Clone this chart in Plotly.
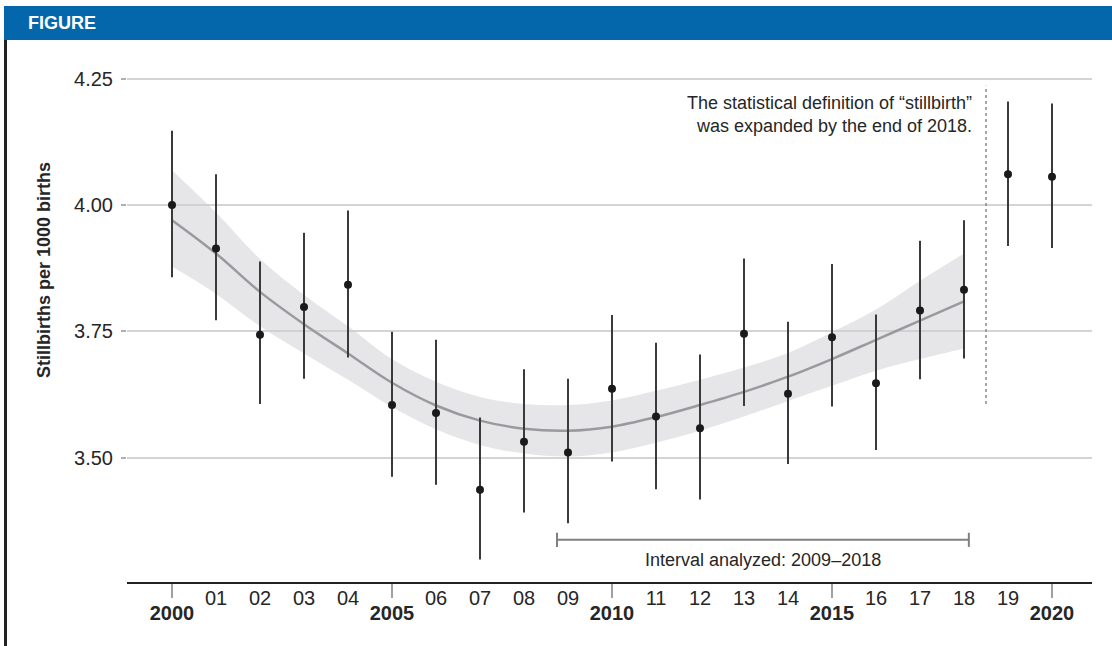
import plotly.graph_objects as go

# ---- data ----
years = list(range(2000, 2021))
rate = [4.000, 3.914, 3.743, 3.798, 3.842, 3.604, 3.588, 3.436, 3.531, 3.510,
        3.636, 3.581, 3.558, 3.745, 3.626, 3.738, 3.647, 3.791, 3.832, 4.061, 4.056]
ci_upper = [4.147, 4.061, 3.888, 3.945, 3.989, 3.749, 3.733, 3.579, 3.675, 3.656,
            3.782, 3.727, 3.704, 3.894, 3.769, 3.883, 3.783, 3.929, 3.970, 4.205, 4.201]
ci_lower = [3.857, 3.772, 3.606, 3.656, 3.698, 3.462, 3.446, 3.298, 3.391, 3.370,
            3.492, 3.437, 3.417, 3.602, 3.487, 3.601, 3.515, 3.655, 3.696, 3.919, 3.915]

fit_years = list(range(2000, 2019))
fit = [3.970, 3.904, 3.828, 3.764, 3.706, 3.648, 3.603, 3.573, 3.557, 3.553,
       3.561, 3.580, 3.604, 3.630, 3.660, 3.695, 3.733, 3.771, 3.809]
fit_upper = [4.069, 3.985, 3.893, 3.822, 3.760, 3.695, 3.650, 3.620, 3.606, 3.604,
             3.613, 3.632, 3.654, 3.678, 3.707, 3.748, 3.793, 3.850, 3.904]
fit_lower = [3.878, 3.824, 3.760, 3.706, 3.654, 3.600, 3.556, 3.525, 3.508, 3.502,
             3.510, 3.529, 3.553, 3.581, 3.612, 3.642, 3.672, 3.695, 3.716]

major_ticks = [2000, 2005, 2010, 2015, 2020]
major_labels = ["2000", "2005", "2010", "2015", "2020"]
minor_ticks = [y for y in years if y % 5 != 0]
minor_labels = ["01", "02", "03", "04", "06", "07", "08", "09", "11", "12",
                "13", "14", "16", "17", "18", "19"]
y_ticks = [3.50, 3.75, 4.00, 4.25]
y_labels = ["3.50", "3.75", "4.00", "4.25"]

DEF_CHANGE_X = 2018.5
DEF_LINE_Y = (3.606, 4.236)
INTERVAL = (2008.75, 2018.11)
INTERVAL_Y = 3.337

NARROW = "Liberation Sans Narrow, Arial Narrow, Liberation Sans, sans-serif"
TXT = "#262626"

fig = go.Figure()

# confidence band of the fit
fig.add_trace(go.Scatter(x=fit_years, y=fit_upper, mode="lines", line=dict(width=0, shape="spline"),
                         hoverinfo="skip", showlegend=False))
fig.add_trace(go.Scatter(x=fit_years, y=fit_lower, mode="lines", line=dict(width=0, shape="spline"),
                         fill="tonexty", fillcolor="rgba(205,205,210,0.5)",
                         hoverinfo="skip", showlegend=False))
# fitted curve
fig.add_trace(go.Scatter(x=fit_years, y=fit, mode="lines",
                         line=dict(color="#9a9a9e", width=2.5, shape="spline"),
                         showlegend=False))
# observed rates with CI
fig.add_trace(go.Scatter(
    x=years, y=rate, mode="markers",
    marker=dict(color="#1a1a1a", size=8),
    error_y=dict(type="data", symmetric=False,
                 array=[u - r for u, r in zip(ci_upper, rate)],
                 arrayminus=[r - l for r, l in zip(rate, ci_lower)],
                 color="#3a3a3a", thickness=2, width=0),
    showlegend=False))

# helper axis for minor year labels
fig.add_trace(go.Scatter(x=[years[0]], y=[rate[0]], xaxis="x2", mode="markers",
                         marker=dict(opacity=0), hoverinfo="skip", showlegend=False))

# plot area px: 127..1092 ; top 58, bottom 582
L, R, T, B = 127, 1092, 58, 582
W, H = 1112, 646
px = lambda p: (p - L) / (R - L)
py = lambda p: (B - p) / (B - T)

shapes = [
    # header bar
    dict(type="rect", xref="paper", yref="paper", x0=px(4), x1=px(1112), y0=py(40), y1=py(6),
         fillcolor="#0467AB", line=dict(width=0), layer="above"),
    # left frame line
    dict(type="line", xref="paper", yref="paper", x0=px(5.5), x1=px(5.5), y0=py(646), y1=py(40),
         line=dict(color="#222222", width=3)),
    # definition change dotted line
    dict(type="line", xref="x", yref="y", x0=DEF_CHANGE_X, x1=DEF_CHANGE_X,
         y0=DEF_LINE_Y[0], y1=DEF_LINE_Y[1], line=dict(color="#8a8a8a", width=1.5, dash="dot")),
    # interval bracket
    dict(type="line", xref="x", yref="y", x0=INTERVAL[0], x1=INTERVAL[1], y0=INTERVAL_Y, y1=INTERVAL_Y,
         line=dict(color="#808080", width=2)),
    dict(type="line", xref="x", yref="y", x0=INTERVAL[0], x1=INTERVAL[0],
         y0=INTERVAL_Y - 0.014, y1=INTERVAL_Y + 0.014, line=dict(color="#808080", width=2)),
    dict(type="line", xref="x", yref="y", x0=INTERVAL[1], x1=INTERVAL[1],
         y0=INTERVAL_Y - 0.014, y1=INTERVAL_Y + 0.014, line=dict(color="#808080", width=2)),
]

annotations = [
    dict(text="<b>FIGURE</b>", xref="paper", yref="paper", x=px(26), y=py(23),
         xanchor="left", yanchor="middle", showarrow=False,
         font=dict(family="Liberation Sans, Arial, sans-serif", size=18, color="white")),
    dict(text="<b>Stillbirths per 1000 births</b>", xref="paper", yref="paper",
         x=px(44), y=py(270), textangle=-90, showarrow=False,
         xanchor="center", yanchor="middle", font=dict(family=NARROW, size=18, color=TXT)),
    dict(text="The statistical definition of “stillbirth”<br>was expanded by the end of 2018.",
         xref="x", yref="y", x=DEF_CHANGE_X - 0.27, y=4.179, xanchor="right", yanchor="middle",
         align="right", showarrow=False, font=dict(family=NARROW, size=18, color=TXT)),
    dict(text="Interval analyzed: 2009–2018", xref="x", yref="y",
         x=(INTERVAL[0] + INTERVAL[1]) / 2, y=3.297, xanchor="center", yanchor="middle",
         showarrow=False, font=dict(family=NARROW, size=18, color=TXT)),
]

x_range = [2000 + (L - 172) / 44, 2000 + (R - 172) / 44]
y_range = [4 - (B - 205) / 505, 4 + (205 - T) / 505]

fig.update_layout(
    width=W, height=H,
    margin=dict(l=L, r=W - R, t=T, b=H - B, pad=0),
    plot_bgcolor="white", paper_bgcolor="white",
    shapes=shapes, annotations=annotations,
    xaxis=dict(range=x_range, tickvals=major_ticks, ticktext=["<b>%s</b>" % t for t in major_labels],
               ticks="outside", ticklen=14, tickwidth=1.5, tickcolor="#a0a0a0",
               showgrid=False, zeroline=False, showline=True, linecolor="#222222", linewidth=2,
               tickfont=dict(family=NARROW, size=20, color=TXT), ticklabelstandoff=-2),
    xaxis2=dict(range=x_range, overlaying="x", side="bottom", anchor="y",
                tickvals=minor_ticks, ticktext=minor_labels, ticks="",
                showgrid=False, zeroline=False, showline=False,
                tickfont=dict(family=NARROW, size=20, color=TXT), ticklabelstandoff=2),
    yaxis=dict(range=y_range, tickvals=y_ticks, ticktext=y_labels,
               ticks="outside", ticklen=5, tickcolor="#b0b0b0", tickwidth=1.5,
               showgrid=True, gridcolor="#d4d4d4", gridwidth=1.5, zeroline=False, showline=False,
               tickfont=dict(family=NARROW, size=20, color=TXT), ticklabelstandoff=4),
)

fig.write_html("out.html", config={"displayModeBar": False},
               post_script="document.body.style.margin='0';document.body.style.overflow='hidden';")
